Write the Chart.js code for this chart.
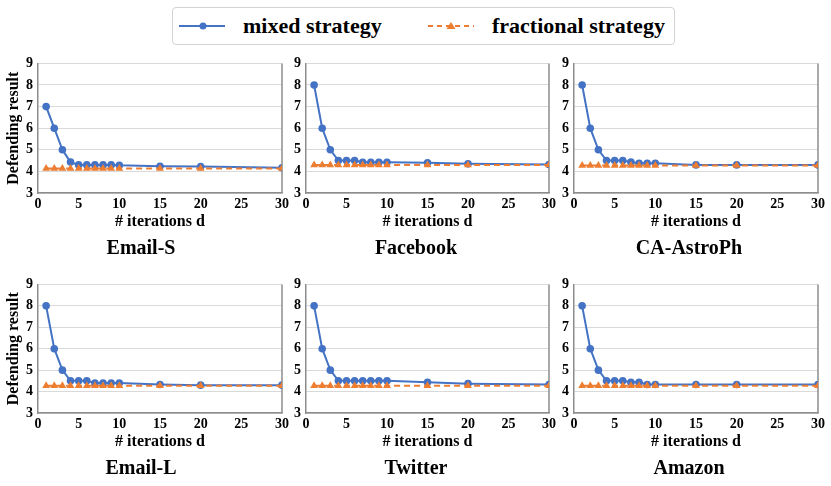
<!DOCTYPE html>
<html>
<head>
<meta charset="utf-8">
<script src="https://cdn.jsdelivr.net/npm/chart.js@4.4.1/dist/chart.umd.min.js"></script>
<style>
body{margin:0;background:#fff;width:831px;height:486px;position:relative;overflow:hidden;font-family:"Liberation Serif","Times New Roman",serif;}
canvas.panel{position:absolute;}
#legend{position:absolute;left:172px;top:7px;width:503px;height:38px;border:1px solid #d3d3d3;border-radius:4px;box-sizing:border-box;font-weight:bold;font-size:22px;color:#000;}
#legend .item{position:absolute;top:0;height:36px;line-height:36px;white-space:nowrap;}
#legend svg{position:absolute;top:8px;}
</style>
</head>
<body>
<div id="legend">
  <svg style="left:6px" width="48" height="20"><line x1="0" y1="10" x2="46" y2="10" stroke="#4472C4" stroke-width="2"/><circle cx="24" cy="10" r="3.5" fill="#4472C4"/></svg>
  <span class="item" style="left:70px">mixed strategy</span>
  <svg style="left:255px" width="48" height="20"><line x1="0" y1="10" x2="46" y2="10" stroke="#ED7D31" stroke-width="2" stroke-dasharray="5,4"/><polygon points="23,6 27.5,13 18.5,13" fill="#ED7D31"/></svg>
  <span class="item" style="left:319px">fractional strategy</span>
</div>
<script>
// x values (# iterations d)
var iterations = [1, 2, 3, 4, 5, 6, 7, 8, 9, 10, 15, 20, 30];
var datasetNames = ["Email-S", "Facebook", "CA-AstroPh", "Email-L", "Twitter", "Amazon"];
var yTicks = [3, 4, 5, 6, 7, 8, 9];
var xTicks = [0, 5, 10, 15, 20, 25, 30];

// mixed strategy per network
var mixedEmailS     = [7, 6, 5, 4.43, 4.3, 4.3, 4.3, 4.3, 4.3, 4.28, 4.24, 4.23, 4.17];
var mixedFacebook   = [8, 6, 5, 4.5, 4.5, 4.5, 4.42, 4.42, 4.42, 4.42, 4.4, 4.35, 4.32];
var mixedAstroPh    = [8, 6, 5, 4.5, 4.5, 4.5, 4.43, 4.38, 4.38, 4.38, 4.3, 4.3, 4.3];
var mixedEmailL     = [8, 6, 5, 4.5, 4.5, 4.5, 4.4, 4.4, 4.4, 4.4, 4.33, 4.3, 4.3];
var mixedTwitter    = [8, 6, 5, 4.5, 4.5, 4.5, 4.5, 4.5, 4.5, 4.5, 4.43, 4.37, 4.33];
var mixedAmazon     = [8, 6, 5, 4.5, 4.5, 4.5, 4.43, 4.43, 4.33, 4.33, 4.33, 4.33, 4.33];

// fractional strategy per network
var fracEmailS   = [4.14, 4.14, 4.14, 4.14, 4.14, 4.14, 4.14, 4.14, 4.14, 4.14, 4.14, 4.14, 4.14];
var fracFacebook = [4.3, 4.3, 4.3, 4.3, 4.3, 4.3, 4.3, 4.3, 4.3, 4.3, 4.3, 4.3, 4.3];
var fracAstroPh  = [4.27, 4.27, 4.27, 4.27, 4.27, 4.27, 4.27, 4.27, 4.27, 4.27, 4.27, 4.27, 4.27];
var fracEmailL   = [4.27, 4.27, 4.27, 4.27, 4.27, 4.27, 4.27, 4.27, 4.27, 4.27, 4.27, 4.27, 4.27];
var fracTwitter  = [4.27, 4.27, 4.27, 4.27, 4.27, 4.27, 4.27, 4.27, 4.27, 4.27, 4.27, 4.27, 4.27];
var fracAmazon   = [4.27, 4.27, 4.27, 4.27, 4.27, 4.27, 4.27, 4.27, 4.27, 4.27, 4.27, 4.27, 4.27];

var mixedAll = [mixedEmailS, mixedFacebook, mixedAstroPh, mixedEmailL, mixedTwitter, mixedAmazon];
var fracAll = [fracEmailS, fracFacebook, fracAstroPh, fracEmailL, fracTwitter, fracAmazon];

// panel placement
var cols = [
  {left: 0, width: 292, yw: 38, pr: 10},
  {left: 283, width: 277, yw: 23, pr: 11},
  {left: 560, width: 271, yw: 14, pr: 13}
];
var rows = [
  {top: 50, height: 215},
  {top: 271, height: 214}
];

var serif = '"Liberation Serif", "Times New Roman", serif';

// right edge of the plot frame
var frameRight = {
  id: "frameRight",
  beforeDatasetsDraw: function (chart) {
    var a = chart.chartArea, c = chart.ctx;
    c.save();
    c.strokeStyle = "#8c8c8c";
    c.lineWidth = 1.5;
    c.beginPath();
    c.moveTo(a.right, a.top);
    c.lineTo(a.right, a.bottom);
    c.stroke();
    c.restore();
  }
};

function toPoints(ys) {
  return iterations.map(function (x, i) { return {x: x, y: ys[i]}; });
}

for (var i = 0; i < 6; i++) {
  var col = cols[i % 3], row = rows[Math.floor(i / 3)];
  var cv = document.createElement("canvas");
  cv.className = "panel";
  cv.style.left = col.left + "px";
  cv.style.top = row.top + "px";
  cv.style.width = col.width + "px";
  cv.style.height = row.height + "px";
  cv.width = col.width;
  cv.height = row.height;
  document.body.appendChild(cv);

  (function (cv, col, idx) {
    new Chart(cv.getContext("2d"), {
      type: "line",
      data: {
        datasets: [
          {
            label: "fractional strategy",
            data: toPoints(fracAll[idx]),
            borderColor: "#ED7D31",
            backgroundColor: "#ED7D31",
            borderWidth: 2,
            borderDash: [6, 4],
            pointStyle: "triangle",
            pointRadius: 4.5,
            pointBorderWidth: 0,
            order: 0
          },
          {
            label: "mixed strategy",
            data: toPoints(mixedAll[idx]),
            borderColor: "#4472C4",
            backgroundColor: "#4472C4",
            borderWidth: 2,
            pointStyle: "circle",
            pointRadius: 3.8,
            pointBorderWidth: 0,
            order: 1
          }
        ]
      },
      options: {
        responsive: false,
        animation: false,
        layout: {padding: {top: 3, left: 0, right: col.pr, bottom: 0}},
        plugins: {
          legend: {display: false},
          tooltip: {enabled: false},
          title: {
            display: true,
            position: "bottom",
            text: datasetNames[idx],
            color: "#000",
            font: {family: serif, size: 20, weight: "bold"},
            padding: {top: 0, bottom: 4}
          }
        },
        scales: {
          x: {
            type: "linear",
            min: 0,
            max: 30,
            afterBuildTicks: function (s) { s.ticks = xTicks.map(function (v) { return {value: v}; }); },
            afterFit: function (s) { s.height = 44; },
            grid: {display: false, drawTicks: false},
            border: {color: "#8c8c8c", width: 1.5},
            ticks: {color: "#000", padding: 3, maxRotation: 0, font: {family: serif, size: 14, weight: "bold"}},
            title: {
              display: true,
              text: "# iterations d",
              color: "#000",
              font: {family: serif, size: 16, weight: "bold"},
              padding: {top: 0, bottom: 6}
            }
          },
          y: {
            min: 3,
            max: 9,
            afterBuildTicks: function (s) { s.ticks = yTicks.map(function (v) { return {value: v}; }); },
            afterFit: function (s) { s.width = col.yw; },
            grid: {color: "#d9d9d9", lineWidth: 1, drawTicks: false},
            border: {color: "#8c8c8c", width: 1.5},
            ticks: {color: "#000", padding: 5, font: {family: serif, size: 14, weight: "bold"}},
            title: {
              display: idx % 3 === 0,
              text: "Defending result",
              color: "#000",
              font: {family: serif, size: 16, weight: "bold"},
              padding: {top: 4, bottom: 0}
            }
          }
        }
      },
      plugins: [frameRight]
    });
  })(cv, col, i);
}
</script>
</body>
</html>
